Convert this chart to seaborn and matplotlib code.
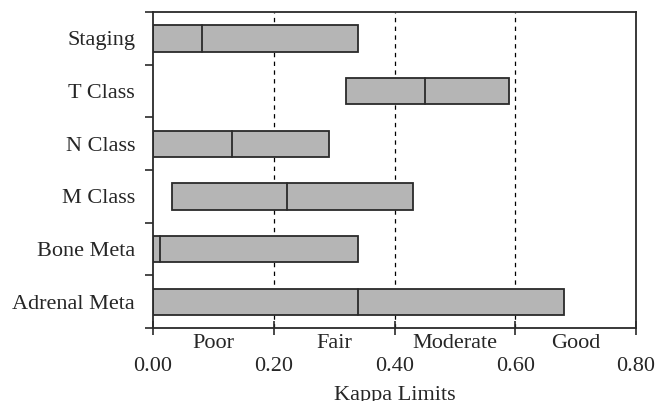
import numpy as np
import pandas as pd
import matplotlib
matplotlib.use('Agg')
import matplotlib.pyplot as plt
import seaborn as sns

# kappa limits
categories = ["Staging", "T Class", "N Class", "M Class", "Bone Meta", "Adrenal Meta"]
lower = [0.000, 0.319, 0.000, 0.032, 0.000, 0.000]
kappa = [0.081, 0.451, 0.131, 0.222, 0.011, 0.340]
upper = [0.340, 0.590, 0.291, 0.430, 0.340, 0.681]
bands = ["Poor", "Fair", "Moderate", "Good"]
band_mid = [0.10, 0.30, 0.50, 0.70]
cutoffs = [0.20, 0.40, 0.60]
xticks = [0.0, 0.2, 0.4, 0.6, 0.8]

df = pd.DataFrame({"cat": categories, "lo": lower, "k": kappa, "hi": upper})
df["span"] = df["hi"] - df["lo"]

sns.set_style('ticks')
plt.rcParams['font.family'] = ['Liberation Serif', 'DejaVu Serif']
plt.rcParams['font.size'] = 16

fig = plt.figure(figsize=(6.57, 4.01), dpi=100)
ax = fig.add_axes([0.233, 0.182, 0.735, 0.788])

for c in cutoffs:
    ax.axvline(c, color='black', lw=0.9, ls=(0, (3.5, 3.5)), zorder=0)

sns.barplot(data=df, x="span", y="cat", orient="h", ax=ax, width=0.5,
            color="#b5b5b5", saturation=1, edgecolor="#2a2a2a", linewidth=1.3,
            zorder=2)

# float each bar from its lower limit, mark the point estimate
for p, lo, k in zip(ax.patches, df["lo"], df["k"]):
    p.set_x(lo)
    y0 = p.get_y()
    ax.plot([k, k], [y0, y0 + p.get_height()], color="#2a2a2a", lw=1.3, zorder=3)

ax.set_xlim(0, 0.8)
ax.set_ylim(5.5, -0.5)
ax.set_xticks(xticks)
ax.set_xticklabels([f"{v:.2f}" for v in xticks])
ax.set_yticks(np.arange(-0.5, 6.0, 1.0))
ax.set_yticklabels([])
ax.set_yticks(np.arange(len(categories)), minor=True)
ax.set_yticklabels(categories, minor=True)
ax.tick_params(axis='y', which='major', direction='out', length=6, width=1.2, color='#2a2a2a')
ax.tick_params(axis='y', which='minor', length=0, pad=13)
ax.tick_params(axis='x', direction='inout', length=10, width=1.2, pad=16, color='#2a2a2a')

for name, m in zip(bands, band_mid):
    ax.text(m, -0.018, name, transform=ax.get_xaxis_transform(), ha='center', va='top')

ax.set_xlabel("Kappa Limits", labelpad=7)
ax.set_ylabel("")
for s in ax.spines.values():
    s.set_linewidth(1.3)
    s.set_color('#2a2a2a')

fig.savefig("out.png", dpi=100)
